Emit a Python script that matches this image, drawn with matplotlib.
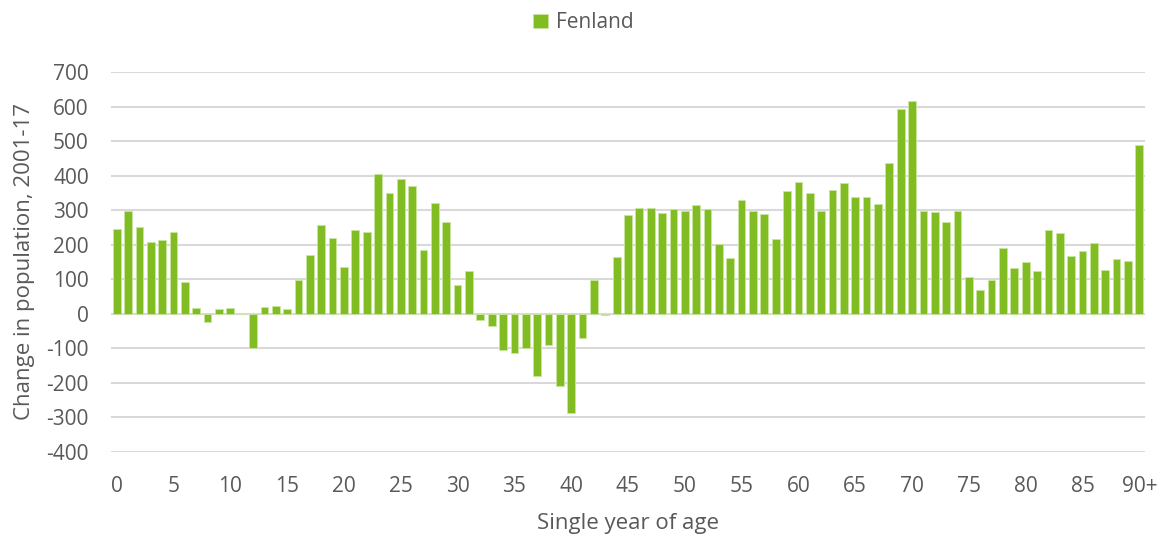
import matplotlib.pyplot as plt
import numpy as np

# Ages 0..90+ and change in population 2001-17 (Fenland)
ages = list(range(91))
age_labels = [str(a) if a % 5 == 0 else '' for a in ages]
age_labels[90] = '90+'
change = [245, 299, 251, 208, 215, 237, 91, 18, -23, 13,
          16, 0, -98, 20, 24, 15, 98, 170, 256, 220,
          135, 243, 238, 406, 350, 390, 371, 185, 321, 267,
          84, 123, -17, -34, -104, -112, -99, -179, -91, -208,
          -286, -70, 97, -3, 165, 285, 307, 307, 292, 302,
          299, 314, 302, 202, 162, 329, 299, 290, 217, 355,
          381, 350, 299, 358, 379, 338, 338, 318, 438, 592,
          615, 299, 296, 265, 299, 107, 68, 97, 191, 133,
          149, 125, 243, 234, 168, 183, 204, 127, 158, 153,
          488]
series_name = 'Fenland'

plt.rcParams['font.family'] = ['Open Sans', 'DejaVu Sans']
plt.rcParams['axes.unicode_minus'] = False
txt = '#595959'
green = '#80BC22'

fig = plt.figure(figsize=(11.62, 5.4), dpi=100)
ax = fig.add_axes([111 / 1162, 88 / 540, 1034 / 1162, 380 / 540])

ax.bar(ages, change, width=0.68, color=green, edgecolor='#C9E6A0',
       linewidth=0.6, label=series_name, zorder=3)

ax.set_xlim(-0.5, 90.5)
ax.set_ylim(-400, 700)
ax.set_yticks(np.arange(-400, 701, 100))
ax.yaxis.grid(True, color='#D9D9D9', linewidth=1.5, zorder=0)
ax.set_axisbelow(True)

ticks = [a for a in ages if age_labels[a]]
ax.set_xticks(ticks)
ax.set_xticklabels([age_labels[a] for a in ticks])
ax.tick_params(axis='both', length=0, labelsize=15, colors=txt)
ax.tick_params(axis='x', pad=17)
ax.tick_params(axis='y', pad=16)

for s in ax.spines.values():
    s.set_visible(False)

ax.set_xlabel('Single year of age', fontsize=16, color=txt, labelpad=12)
ax.set_ylabel('Change in population, 2001-17', fontsize=16, color=txt, labelpad=8)

ax.legend(loc='upper center', bbox_to_anchor=(0.457, 1.207), frameon=False,
          fontsize=15, labelcolor=txt, handlelength=0.7, handleheight=0.7,
          handletextpad=0.4)

fig.savefig('out.png', dpi=100)
